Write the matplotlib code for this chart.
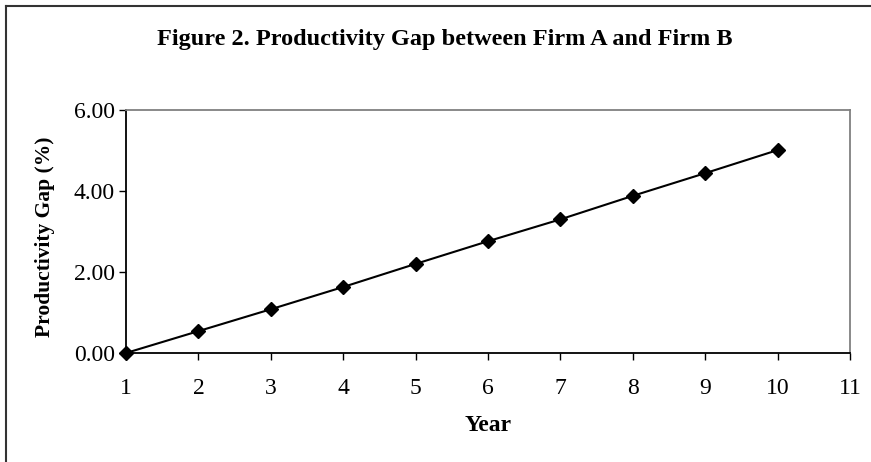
import matplotlib.pyplot as plt
from matplotlib.lines import Line2D

# data
years = [1, 2, 3, 4, 5, 6, 7, 8, 9, 10]
gap = [0.00, 0.54, 1.08, 1.63, 2.20, 2.76, 3.30, 3.88, 4.44, 5.01]
xticks = [1, 2, 3, 4, 5, 6, 7, 8, 9, 10, 11]
yticks = [0.0, 2.0, 4.0, 6.0]

W, H = 871, 462
plt.rcParams['font.family'] = 'Liberation Serif'

fig = plt.figure(figsize=(W / 100, H / 100), dpi=100)
fig.patch.set_facecolor('white')

# plot area in pixels
l, r, t, b = 126, 850, 110, 353
ax = fig.add_axes([l / W, 1 - b / H, (r - l) / W, (b - t) / H])

ax.plot(years, gap, color='black', lw=1.5, marker='D', ms=7.5,
        mfc='black', mec='black', clip_on=False, zorder=3)

ax.set_xlim(1, 11)
ax.set_ylim(0, 6)
ax.set_xticks(xticks)
ax.set_yticks(yticks)
ax.set_yticklabels(['%.2f' % v for v in yticks])
ax.tick_params(direction='out', length=5, width=1, labelsize=17, colors='black')
ax.tick_params(axis='x', pad=13)
ax.tick_params(axis='y', pad=3)

for s in ['left', 'bottom']:
    ax.spines[s].set_color('black')
    ax.spines[s].set_linewidth(1.3)
for s in ['top', 'right']:
    ax.spines[s].set_color('#808080')
    ax.spines[s].set_linewidth(1.3)

ax.set_ylabel('Productivity Gap (%)', fontsize=15.5, fontweight='bold')
ax.yaxis.set_label_coords((55 - l) / (r - l), (b - 237) / (b - t))
ax.set_xlabel('Year', fontsize=17, fontweight='bold')
ax.xaxis.set_label_coords((488 - l) / (r - l), (b - 415) / (b - t))

fig.text(445 / W, 1 - 40 / H, 'Figure 2. Productivity Gap between Firm A and Firm B',
         ha='center', va='center', fontsize=17.5, fontweight='bold')

# outer chart border (only left and top edges are visible)
fig.add_artist(Line2D([5.5 / W, 5.5 / W], [0, 1 - 5.5 / H], transform=fig.transFigure,
                      color='#333333', lw=1.5))
fig.add_artist(Line2D([5.5 / W, 1], [1 - 5.5 / H, 1 - 5.5 / H], transform=fig.transFigure,
                      color='#333333', lw=1.5))

fig.savefig('out.png', dpi=100)
